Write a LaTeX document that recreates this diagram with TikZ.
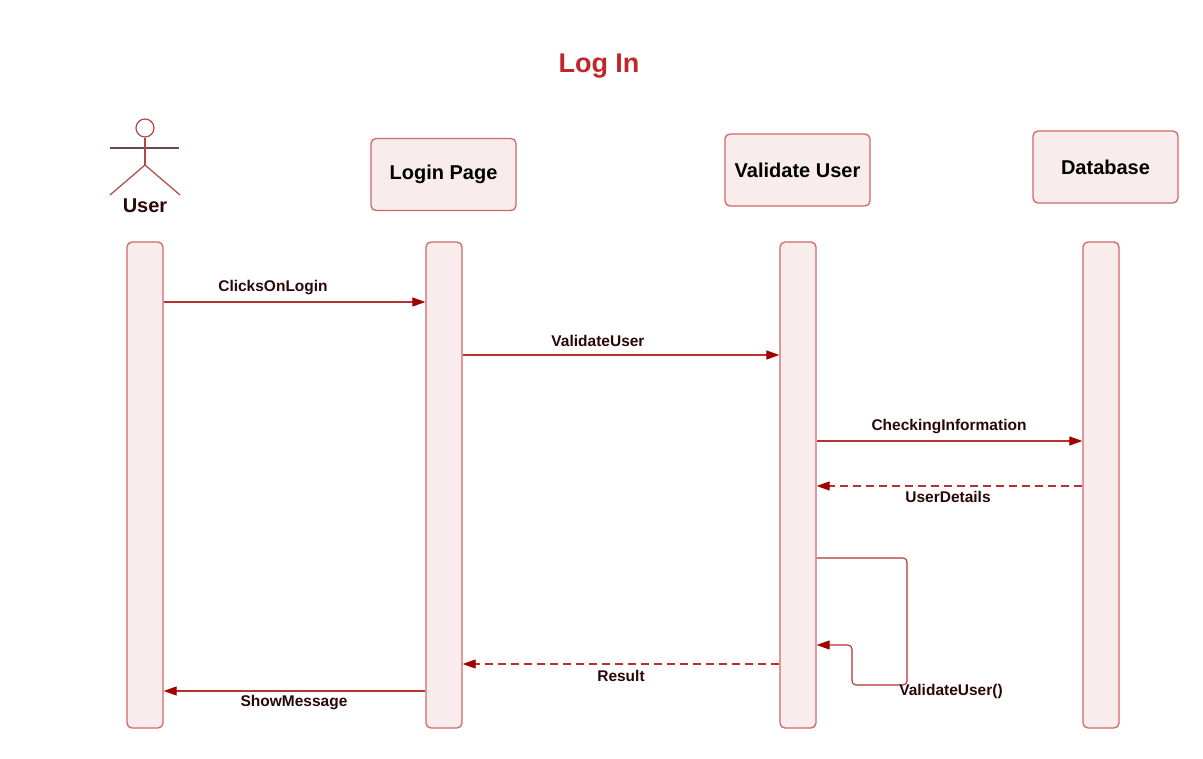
\documentclass[tikz,border=0pt]{standalone}
\usepackage{fontspec}
\setmainfont{Liberation Sans}
\usetikzlibrary{arrows.meta}
\definecolor{boxborder}{HTML}{D06868}
\definecolor{boxfill}{HTML}{F9ECEC}
\definecolor{msgline}{HTML}{B83030}
\definecolor{msghead}{HTML}{A00000}
\definecolor{labeltext}{HTML}{2A0808}
\definecolor{titlered}{HTML}{C0272D}
\definecolor{actorline}{HTML}{B04848}
\definecolor{armline}{HTML}{6B4A4A}
\tikzset{
  objbox/.style={draw=boxborder, fill=boxfill, line width=1.3pt, rounded corners=5pt,
    minimum width=145pt, minimum height=72pt, inner sep=0pt,
    font=\fontsize{20}{24}\selectfont\bfseries, text=black},
  lifebar/.style={draw=boxborder, fill=boxfill, line width=1.3pt, rounded corners=5pt,
    minimum width=36pt, minimum height=486pt, inner sep=0pt},
  msg/.style={draw=msgline, line width=1.1pt, -{Triangle[length=13pt,width=9pt,fill=msghead,color=msghead]}},
  ret/.style={msg, dash pattern=on 8pt off 5pt},
  msglabel/.style={font=\fontsize{15.5}{18}\selectfont\bfseries, text=labeltext, inner sep=0pt},
  actorstroke/.style={draw=actorline, line width=1.2pt},
}
\begin{document}
\begin{tikzpicture}[x=1pt,y=-1pt]
\useasboundingbox[fill=white] (0,0) rectangle (1203,759);
% title
\node[font=\fontsize{27}{32}\selectfont\bfseries, text=titlered] (title) at (599,66) {Log In};
% actor
\node[circle, draw=actorline, line width=1.2pt, minimum size=18pt, inner sep=0pt] (head) at (145,128) {};
\coordinate (armL) at (110,148);
\coordinate (armR) at (179,148);
\coordinate (hip) at (145,165);
\coordinate (footL) at (110,195);
\coordinate (footR) at (180,195);
\draw[draw=armline, line width=1.1pt] (armL) -- (armR);
\draw[actorstroke] (head.south) -- (hip);
\draw[actorstroke] (footL) -- (hip) -- (footR);
\node[font=\fontsize{20}{24}\selectfont\bfseries, text=labeltext] (userlbl) at (145,206) {User};
% object boxes
\node[objbox] (login) at (443.5,174.5) {Login Page};
\node[objbox] (valid) at (797.5,170) {Validate User};
\node[objbox] (db) at (1105.5,167) {Database};
% lifeline bars
\node[lifebar] (ubar) at (145,485) {};
\node[lifebar] (lbar) at (444,485) {};
\node[lifebar] (vbar) at (798,485) {};
\node[lifebar] (dbar) at (1101,485) {};
% message levels
\coordinate (m1) at (0,302);
\coordinate (m2) at (0,355);
\coordinate (m3) at (0,441);
\coordinate (m4) at (0,486);
\coordinate (m5) at (0,558);
\coordinate (m6) at (0,645);
\coordinate (m7) at (0,664);
\coordinate (m8) at (0,691);
\coordinate (loopA) at (907,558);
\coordinate (loopB) at (907,685);
\coordinate (loopC) at (852,685);
\coordinate (loopD) at (852,645);
% messages
\draw[msg] (ubar.east |- m1) -- (lbar.west |- m1);
\node[msglabel] (l1) at (273,288) {ClicksOnLogin};
\draw[msg] (lbar.east |- m2) -- (vbar.west |- m2);
\node[msglabel] (l2) at (598,341) {ValidateUser};
\draw[msg] (vbar.east |- m3) -- (dbar.west |- m3);
\node[msglabel] (l3) at (949,427) {CheckingInformation};
\draw[ret] (dbar.west |- m4) -- (vbar.east |- m4);
\node[msglabel] (l4) at (948,497) {UserDetails};
\draw[msg, rounded corners=4pt] (vbar.east |- m5) -- (loopA) -- (loopB) -- (loopC) -- (loopD) -- (vbar.east |- m6);
\node[msglabel] (l5) at (951,691) {ValidateUser()};
\draw[ret] (vbar.west |- m7) -- (lbar.east |- m7);
\node[msglabel] (l6) at (621,676) {Result};
\draw[msg] (lbar.west |- m8) -- (ubar.east |- m8);
\node[msglabel] (l7) at (294,703) {ShowMessage};
\end{tikzpicture}
\end{document}
